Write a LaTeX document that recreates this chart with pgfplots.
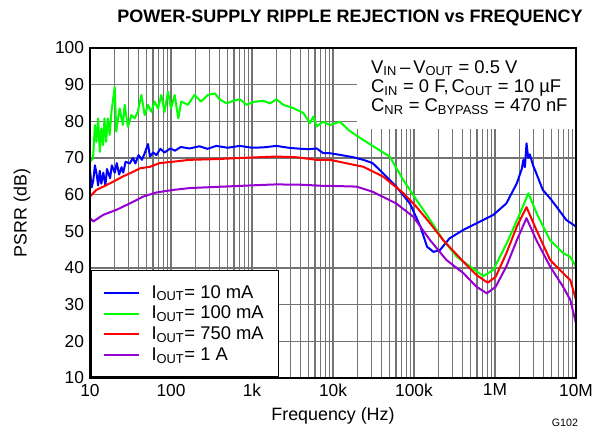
\documentclass[border=0pt]{standalone}
\usepackage{fontspec}
\setmainfont{Liberation Sans}
\usepackage{pgfplots}
\pgfplotsset{compat=1.18}
\definecolor{cblue}{RGB}{0,0,255}
\definecolor{cgreen}{RGB}{0,255,0}
\definecolor{cred}{RGB}{255,0,0}
\definecolor{cpurple}{RGB}{150,0,210}
\begin{document}
\begin{tikzpicture}
\path[use as bounding box] (-67.5pt,-40.5pt) rectangle (382.5pt,283.5pt);
\begin{axis}[
  at={(0,0)}, anchor=south west,
  scale only axis, width=364.5pt, height=247.5pt,
  xmode=log, xmin=10, xmax=1e7, ymin=10, ymax=100,
  ytick={10,20,...,100},
  xtick={10,100,1000,10000,100000,1000000,10000000},
  xticklabels={10,100,1k,10k,100k,1M,10M},
  minor xtick={20,30,40,50,60,70,80,90,200,300,400,500,600,700,800,900,2000,3000,4000,5000,6000,7000,8000,9000,2e4,3e4,4e4,5e4,6e4,7e4,8e4,9e4,2e5,3e5,4e5,5e5,6e5,7e5,8e5,9e5,2e6,3e6,4e6,5e6,6e6,7e6,8e6,9e6},
  grid=both,
  major grid style={black!55, line width=0.8pt},
  minor grid style={black!55, line width=0.8pt},
  major tick length=0pt, minor tick length=0pt,
  axis line style={line width=1.5pt},
  tick label style={font=\fontsize{13}{15}\selectfont},
  /pgf/number format/assume math mode=true,
  xticklabel style={yshift=-1pt},
  yticklabel style={xshift=-1pt},
  xlabel={Frequency (Hz)},
  ylabel={PSRR (dB)},
  label style={font=\fontsize{13.4}{15}\selectfont},
  xlabel style={at={(axis description cs:0.5,-0.115)}, anchor=center},
  ylabel style={at={(axis description cs:-0.14,0.5)}, anchor=center},
  legend cell align=left,
  legend style={at={(rel axis cs:0,0)}, anchor=south west, draw=black, line width=1.3pt, fill=white,
    font=\fontsize{13.8}{15}\selectfont, row sep=0.5pt, column sep=7pt, inner xsep=9pt, inner ysep=9pt},
  legend image code/.code={\draw[#1, line width=1.5pt] (0pt,0pt) -- (26pt,0pt);},
  every axis plot/.append style={line width=1.5pt, line join=round},
]
% I_OUT = 10 mA
\addplot[cblue] coordinates {
(10,66.7)(10.5,62)(11,64)(11.5,68)(12,66)(12.6,62.5)(13.2,66.5)(13.8,63)(14.6,66)(15.5,62.5)(16.2,67)(17.7,64.5)(18.6,68)(20.2,66)(21.4,68.6)(22.9,65.5)(24.5,67.5)(25.7,66)(27.5,69)(30.9,68.5)(33.9,70)(36.3,68.5)(39.8,70.8)(43.7,69.5)(46.8,71)(52,73.8)(55,70.4)(60.3,71.5)(66,70.8)(74,72.5)(83,71.5)(98,72.6)(112,72)(132,73)(170,72.6)(224,73.2)(282,72.5)(363,73.3)(500,72.8)(708,73.3)(1000,72.8)(1380,72.9)(2000,73.3)(2820,72.8)(3550,72.6)(5000,72.4)(6300,72.6)(7600,71.3)(9183,71.3)(12600,70.8)(17800,70.2)(23700,69.5)(30900,68.6)(41700,65.8)(60300,62.2)(89000,57.6)(120000,51.3)(145000,45.8)(174000,44.4)(209000,44.9)(275000,48.1)(407000,50.4)(646000,52.6)(955000,54.5)(1.38e6,57.6)(1.86e6,63.1)(2.14e6,67)(2.24e6,69.5)(2.34e6,67.5)(2.45e6,74)(2.57e6,70)(2.69e6,71)(2.95e6,68)(3.24e6,65.8)(3.89e6,61.3)(4.79e6,59)(5.75e6,56.7)(7.59e6,53.1)(1e7,51.3)
};
\addlegendentry{I\textsubscript{OUT}= 10 mA}
% I_OUT = 100 mA
\addplot[cgreen] coordinates {
(10,69)(10.9,69.9)(11.5,79)(12,74.4)(12.6,80.8)(13.2,71.7)(13.8,78.1)(14.5,73.5)(15.1,80.8)(15.8,74.4)(16.6,80.8)(17.5,76.3)(18.4,82.6)(20.2,89.4)(21.1,77.2)(23.2,83.5)(25.5,79)(26.8,84.5)(29.4,78.5)(32.4,81.7)(35.6,80.8)(38.9,82.6)(43.1,87.2)(47.3,81.7)(52,84.5)(57.1,82.6)(62.8,85.4)(69.2,83.5)(75.9,87.2)(83.2,82.6)(91.8,88.1)(100,83.5)(111,87.2)(123,80.8)(134,85.4)(162,84.5)(195,87.2)(234,85.4)(286,87.2)(349,87.6)(398,86)(486,84.9)(587,85.6)(710,86)(859,84.5)(1038,85.3)(1380,85.6)(1660,84.9)(2014,86)(2432,84.5)(3236,83.6)(4295,82.3)(5200,79.5)(5715,81.3)(6281,78.6)(7586,79.9)(9183,79)(12190,79.9)(15800,77.5)(23660,74.9)(50100,70.4)(73800,64)(108000,58.5)(158000,53.1)(230000,47.6)(337000,43.1)(491000,40.4)(718000,37.8)(953000,39.5)(1.393e6,46.7)(2.037e6,54.9)(2.58e6,60.4)(3.27e6,54.9)(4.78e6,47.6)(6.97e6,44)(8.43e6,43.1)(1e7,40.4)
};
\addlegendentry{I\textsubscript{OUT}= 100 mA}
% I_OUT = 750 mA
\addplot[cred] coordinates {
(10,59.5)(12,61.3)(14.6,62.2)(17.7,63.1)(25.7,65)(30.9,65.8)(41.7,67.2)(55,67.6)(72,68.6)(107,69)(170,69.5)(363,69.7)(708,70)(2000,70.4)(3550,70.2)(6300,69.5)(9183,69.5)(23700,67.6)(41700,64.9)(74000,60.4)(107000,56.7)(158000,52.2)(229000,47.6)(407000,41.7)(589000,38.1)(813000,36)(1.02e6,37.6)(1.38e6,44)(1.86e6,51.3)(2.45e6,56.6)(3.24e6,50.4)(4.79e6,42.2)(6.92e6,38.6)(8.51e6,36.7)(1e7,31.3)
};
\addlegendentry{I\textsubscript{OUT}= 750 mA}
% I_OUT = 1 A
\addplot[cpurple] coordinates {
(10,53.6)(11,52.7)(14.6,54.5)(21.4,55.9)(30.9,57.6)(45.7,59.5)(66,60.6)(107,61.3)(170,61.8)(447,62.2)(1150,62.6)(2000,62.8)(4270,62.7)(7590,62.4)(9183,62.4)(19500,62.2)(30900,60.8)(60300,57.6)(97700,54)(158000,47.6)(251000,42.2)(407000,38.6)(589000,34.9)(794000,33.1)(1.02e6,34.9)(1.38e6,40.4)(1.86e6,47.6)(2.45e6,53.6)(3.24e6,47.6)(4.79e6,40.4)(6.92e6,34.9)(8.51e6,31.3)(1e7,24.9)
};
\addlegendentry{I\textsubscript{OUT}= 1 A}
\fill[white] (rel axis cs:0.549,0.7545) rectangle (rel axis cs:1,1);
\draw[line width=1.5pt] (rel axis cs:0,0) rectangle (rel axis cs:1,1);
\node[anchor=west, font=\fontsize{13.8}{15}\selectfont, inner sep=0pt] at (rel axis cs:0.578,0.939) {V\textsubscript{IN}\,–\,V\textsubscript{OUT} = 0.5 V};
\node[anchor=west, font=\fontsize{13.8}{15}\selectfont, inner sep=0pt] at (rel axis cs:0.578,0.879) {C\textsubscript{IN} = 0 F,\,C\textsubscript{OUT} = 10 µF};
\node[anchor=west, font=\fontsize{13.8}{15}\selectfont, inner sep=0pt] at (rel axis cs:0.578,0.821) {C\textsubscript{NR} = C\textsubscript{BYPASS} = 470 nF};
\end{axis}
\node[font=\bfseries\fontsize{13.5}{15}\selectfont] at (195pt,270pt) {POWER-SUPPLY RIPPLE REJECTION vs FREQUENCY};
\node[font=\fontsize{8}{9}\selectfont, anchor=east] at (369.5pt,-33.75pt) {G102};
\end{tikzpicture}
\end{document}
